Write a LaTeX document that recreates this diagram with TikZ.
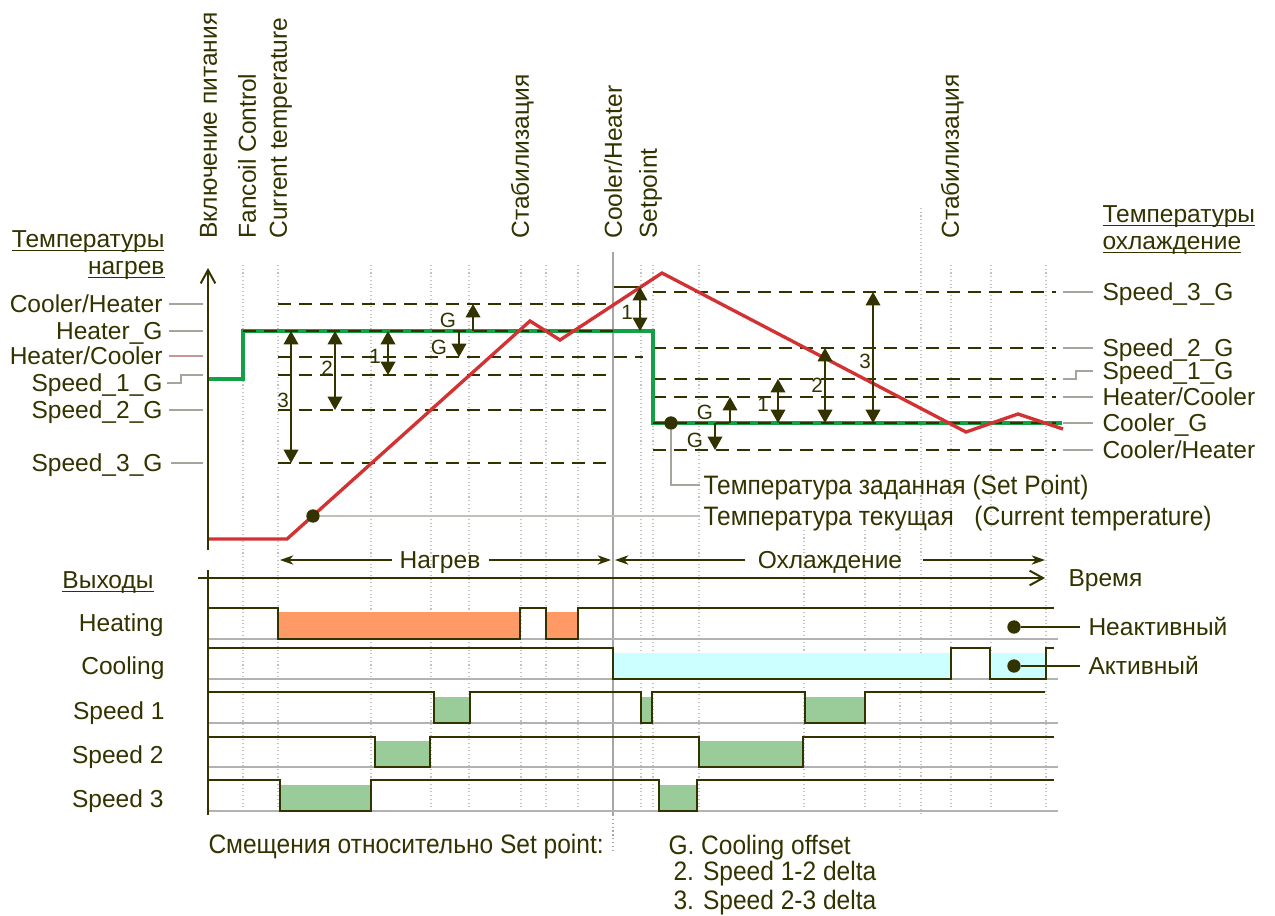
\documentclass[tikz,border=0pt]{standalone}
\usepackage{fontspec}
\setmainfont{Liberation Sans}
\newfontfamily\narrowfont[FakeStretch=0.92]{Liberation Sans}
\usetikzlibrary{arrows.meta,calc}

\definecolor{ink}{RGB}{51,51,0}
\definecolor{gridc}{RGB}{195,195,195}
\definecolor{leadc}{RGB}{165,165,155}
\definecolor{leadr}{RGB}{200,150,150}
\definecolor{setc}{RGB}{20,160,70}
\definecolor{curc}{RGB}{210,50,50}
\definecolor{heatf}{RGB}{255,153,102}
\definecolor{coolf}{RGB}{204,255,255}
\definecolor{speedf}{RGB}{153,204,153}

\newcommand{\ulabel}[1]{\setbox0\hbox{#1}\rlap{\rule[-2.4pt]{\wd0}{0.9pt}}#1}

\tikzset{every picture/.style={line width=0.75pt}}

\begin{document}
\begin{tikzpicture}[x=0.75pt,y=0.75pt,yscale=-1,xscale=1,
  lbl/.style={font=\fontsize{18.4}{22}\selectfont, text=ink, inner sep=0pt, text height=13.2pt, text depth=0pt},
  small/.style={font=\fontsize{15.5}{18}\selectfont, text=ink, inner sep=0pt, text height=11.1pt, text depth=0pt},
  nar/.style={font=\narrowfont\fontsize{20}{24}\selectfont, text=ink, inner sep=0pt, text height=14.3pt, text depth=0pt},
  grid/.style={gridc, dotted, line width=0.8pt},
  leader/.style={leadc, line width=0.9pt},
  level/.style={ink, line width=1.5pt, dash pattern=on 9.75pt off 6pt},
  dim/.style={ink, line width=1.1pt, {Triangle[width=11pt,length=10pt]}-{Triangle[width=11pt,length=10pt]}},
  dimone/.style={ink, line width=1.1pt, -{Triangle[width=11pt,length=10pt]}},
  axis/.style={ink, line width=1.5pt, -{Straight Barb[length=10pt,width=11pt]}},
  span/.style={ink, line width=1.1pt, -{Stealth[length=10pt,width=7pt,inset=3pt]}},
  wave/.style={ink, line width=2pt},
  base/.style={gray!60, line width=1.1pt},
  dot/.style={circle, fill=ink, inner sep=0pt, minimum size=10pt}
]
\useasboundingbox (0,0) rectangle (1275,915);

%Grid
\foreach \x in {243,278,371,431,469,521,546,578,641,653,699,951,991,1046}
  \draw[grid] (\x,265) -- (\x,813);
\draw[grid] (921,208) -- (921,813);
\foreach \x in {804,865,900}
  \draw[grid] (\x,530) -- (\x,813);
%Setpoint change line
\draw[gray!70, line width=0.9pt] (613,252) -- (613,815);
\draw[gray!70, dotted, line width=0.9pt] (613,815) -- (613,852);

%Vertical event labels
\node[lbl, rotate=90, anchor=west] (vPower) at (208,239) {Включение питания};
\node[lbl, rotate=90, anchor=west] (vFancoil) at (247,239) {Fancoil Control};
\node[lbl, rotate=90, anchor=west] (vCurrent) at (278,239) {Current temperature};
\node[lbl, rotate=90, anchor=west] (vStabA) at (520,239) {Стабилизация};
\node[lbl, rotate=90, anchor=west] (vSwitch) at (613,239) {Cooler/Heater};
\node[lbl, rotate=90, anchor=west] (vSetp) at (648,239) {Setpoint};
\node[lbl, rotate=90, anchor=west] (vStabB) at (950,239) {Стабилизация};

%Headers
\node[lbl, anchor=east] (hHeatA) at (165,239) {\ulabel{Температуры}};
\node[lbl, anchor=east] (hHeatB) at (165,266) {\ulabel{нагрев}};
\node[lbl, anchor=west] (hCoolA) at (1102,214) {\ulabel{Температуры}};
\node[lbl, anchor=west] (hCoolB) at (1102,241) {\ulabel{охлаждение}};

%Heating levels
\node[lbl, anchor=east] (lCH) at (163,304) {Cooler/Heater};
\node[lbl, anchor=east] (lHG) at (163,331) {Heater\_G};
\node[lbl, anchor=east] (lHC) at (163,356) {Heater/Cooler};
\node[lbl, anchor=east] (lS1) at (163,383) {Speed\_1\_G};
\node[lbl, anchor=east] (lS2) at (163,410) {Speed\_2\_G};
\node[lbl, anchor=east] (lS3) at (163,463) {Speed\_3\_G};
\draw[leader] ($(lCH.east)+(6,0)$) -- (203,304);
\draw[leader] ($(lHG.east)+(6,0)$) -- (203,331);
\draw[leadr, line width=0.9pt] ($(lHC.east)+(6,0)$) -- (203,356);
\draw[leader] ($(lS1.east)+(4,0)$) -- (181,383) -- (181,375) -- (203,375);
\draw[leader] ($(lS2.east)+(6,0)$) -- (203,410);
\draw[leader] ($(lS3.east)+(8,0)$) -- (203,463);

\draw[level] (278,304) -- (613,304);
\draw[level] (278,357) -- (643,357);
\draw[level] (278,375) -- (610,375);
\draw[level] (278,410) -- (613,410);
\draw[level] (278,463) -- (613,463);
\draw[ink, line width=1.5pt] (614,287) -- (643,287);

%Cooling levels
\node[lbl, anchor=west] (rS3) at (1102,292) {Speed\_3\_G};
\node[lbl, anchor=west] (rS2) at (1102,348) {Speed\_2\_G};
\node[lbl, anchor=west] (rS1) at (1102,371) {Speed\_1\_G};
\node[lbl, anchor=west] (rHC) at (1102,397) {Heater/Cooler};
\node[lbl, anchor=west] (rCG) at (1102,423) {Cooler\_G};
\node[lbl, anchor=west] (rCH) at (1102,450) {Cooler/Heater};
\draw[leader] ($(rS3.west)+(-9,0)$) -- (1063,292);
\draw[leader] ($(rS2.west)+(-9,0)$) -- (1063,348);
\draw[leader] ($(rS1.west)+(-9,0)$) -- (1076,371) -- (1076,379) -- (1063,379);
\draw[leader] ($(rHC.west)+(-9,0)$) -- (1063,397);
\draw[leader] ($(rCG.west)+(-9,0)$) -- (1063,423);
\draw[leader] ($(rCH.west)+(-9,0)$) -- (1063,450);

\draw[level] (653,292) -- (1056,292);
\draw[level] (653,348) -- (1056,348);
\draw[level] (653,379) -- (1056,379);
\draw[level] (653,397) -- (1056,397);
\draw[level] (653,450) -- (1056,450);

%Set point
\draw[setc, line width=3pt] (208,379) -- (243,379) -- (243,331) -- (653,331) -- (653,423) -- (1062,423);
\draw[level] (243,331) -- (613,331);
\draw[level] (653,423) -- (1056,423);

%Current temperature
\draw[curc, line width=2.5pt] (208,539) -- (287,539) -- (530,321) -- (560,340) -- (662,273) -- (966,432) -- (1018,414) -- (1063,429);

%Temperature axis
\draw[axis] (208,550) -- (208,268);

%Offsets, heating
\draw[dim] (291,331) -- (291,463);
\draw[dim] (335,331) -- (335,410);
\draw[dim] (388,331) -- (388,375);
\draw[dimone] (473,331) -- (473,304);
\draw[dimone] (459,331) -- (459,357);
\draw[dim] (640,331) -- (640,287);
\node[small] (kH3) at (283,400) {3};
\node[small] (kH2) at (327,368) {2};
\node[small] (kH1) at (375,356) {1};
\node[small] (kHGu) at (448,320) {G};
\node[small] (kHGd) at (439,347) {G};
\node[small] (kH1b) at (627,312) {1};

%Offsets, cooling
\draw[dimone] (730,423) -- (730,397);
\draw[dimone] (715,423) -- (715,450);
\draw[dim] (778,379) -- (778,423);
\draw[dim] (825,348) -- (825,423);
\draw[dim] (873,292) -- (873,423);
\node[small] (kCGu) at (705,412) {G};
\node[small] (kCGd) at (695,440) {G};
\node[small] (kC1) at (763,404) {1};
\node[small] (kC2) at (817,385) {2};
\node[small] (kC3) at (865,361) {3};

%Markers
\node[dot] (spDot) at (671,423) {};
\node[dot] (ctDot) at (313,516) {};
\node[nar, anchor=west] (spText) at (703,485) {Температура заданная (Set Point)};
\node[nar, anchor=west] (ctText) at (703,516) {Температура текущая\ \ \ (Current temperature)};
\draw[leader] (spDot.south) |- ($(spText.west)+(-3,0)$);
\draw[leadc!70, line width=0.9pt] (ctDot.east) -- ($(ctText.west)+(-3,0)$);

%Modes
\node[lbl] (mHeat) at (440,560) {Нагрев};
\node[lbl] (mCool) at (830,560) {Охлаждение};
\draw[span] ($(mHeat.west)+(-7,0)$) -- (280,560);
\draw[span] ($(mHeat.east)+(8,0)$) -- (611,560);
\draw[span] ($(mCool.west)+(-12,0)$) -- (615,560);
\draw[span] ($(mCool.east)+(20,0)$) -- (1045,560);

%Time axis
\draw[axis] (198,578) -- (1045,578);
\node[lbl, anchor=west] (tTime) at (1068,578) {Время};

%Outputs
\node[lbl, anchor=west] (oTitle) at (62,580) {\ulabel{Выходы}};
\node[lbl, anchor=east] (oHeat) at (164,623) {Heating};
\node[lbl, anchor=east] (oCool) at (165,666) {Cooling};
\node[lbl, anchor=east] (oSp1) at (165,711) {Speed 1};
\node[lbl, anchor=east] (oSp2) at (164,755) {Speed 2};
\node[lbl, anchor=east] (oSp3) at (164,799) {Speed 3};

\fill[heatf] (278,612) rectangle (520,639) (546,612) rectangle (578,639);
\fill[coolf] (613,653) rectangle (951,679) (990,653) rectangle (1046,679);
\fill[speedf] (434,697) rectangle (470,723) (641,697) rectangle (652,723) (805,697) rectangle (865,723);
\fill[speedf] (375,741) rectangle (430,767) (699,741) rectangle (803,767);
\fill[speedf] (280,785) rectangle (371,811) (659,785) rectangle (697,811);

\foreach \y in {639,679,723,767,811}
  \draw[base] (208,\y) -- (1058,\y);
\draw[ink, line width=1.5pt] (208,570) -- (208,815);

\draw[wave] (208,608) -- (278,608) -- (278,639) -- (520,639) -- (520,608) -- (546,608) -- (546,639) -- (578,639) -- (578,608) -- (1054,608);
\draw[wave] (208,648) -- (613,648) -- (613,679) -- (951,679) -- (951,648) -- (990,648) -- (990,679) -- (1046,679) -- (1046,648) -- (1054,648);
\draw[wave] (208,692) -- (434,692) -- (434,723) -- (470,723) -- (470,692) -- (641,692) -- (641,723) -- (652,723) -- (652,692) -- (805,692) -- (805,723) -- (865,723) -- (865,692) -- (1045,692);
\draw[wave] (208,737) -- (375,737) -- (375,767) -- (430,767) -- (430,737) -- (699,737) -- (699,767) -- (803,767) -- (803,737) -- (1054,737);
\draw[wave] (208,780) -- (280,780) -- (280,811) -- (371,811) -- (371,780) -- (659,780) -- (659,811) -- (697,811) -- (697,780) -- (1054,780);

%Legend
\node[dot] (gOff) at (1014,627) {};
\node[dot] (gOn) at (1014,666) {};
\node[lbl, anchor=west] (tOff) at (1088,627) {Неактивный};
\node[lbl, anchor=west] (tOn) at (1088,666) {Активный};
\draw[ink, line width=1.1pt] (gOff.east) -- ($(tOff.west)+(-8,0)$);
\draw[ink, line width=1.1pt] (gOn.east) -- ($(tOn.west)+(-8,0)$);

%Notes
\node[nar, anchor=west] (nOffsets) at (208,844) {Смещения относительно Set point:};
\node[nar, anchor=west] (nG) at (668,845) {G. Cooling offset};
\node[nar, anchor=west] (n2) at (673,871) {2. Speed 1-2 delta};
\node[nar, anchor=west] (n3) at (673,900) {3. Speed 2-3 delta};

\end{tikzpicture}
\end{document}
